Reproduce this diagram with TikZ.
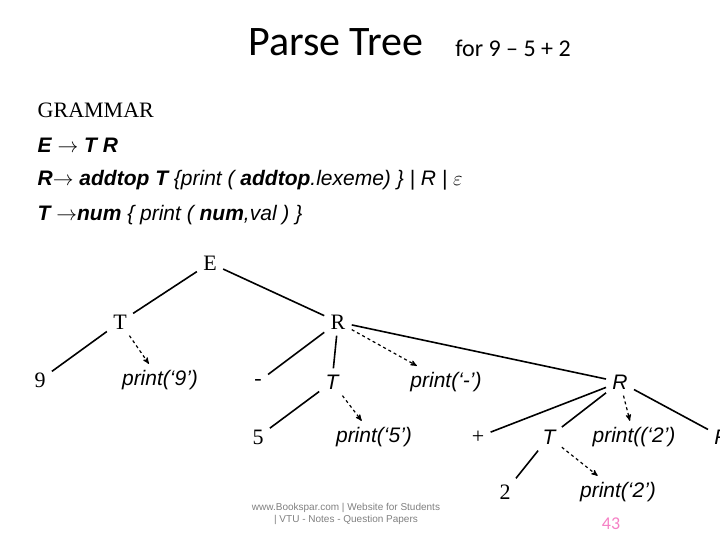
\documentclass[tikz,border=0pt]{standalone}
\usepackage{fontspec}
\setmainfont{Liberation Serif}
\setsansfont{Liberation Sans}
\newfontfamily\titlefont{Carlito}
\usetikzlibrary{arrows}
\begin{document}
\begin{tikzpicture}[x=1pt,y=-1pt,thick,
    sym/.style={font=\fontsize{22}{24}\selectfont,inner sep=6pt},
    act/.style={font=\fontsize{21}{24}\selectfont\sffamily\itshape,inner sep=6pt},
    gram/.style={anchor=west,font=\fontsize{21}{26}\selectfont\sffamily\itshape},
    tree/.style={-,line width=1.6pt},
    sem/.style={->,>=stealth',dashed,line width=1.2pt}]
  \useasboundingbox (0,0) rectangle (720,540);
  % title
  \node[font=\fontsize{42}{44}\selectfont\titlefont] (title) at (336,42) {Parse Tree};
  \node[font=\fontsize{24}{26}\selectfont\titlefont] (sub) at (513,48) {for 9 – 5 + 2};
  % grammar
  \node[anchor=west,font=\fontsize{22}{24}\selectfont] (g0) at (34,110) {GRAMMAR};
  \node[gram] (g1) at (34,145) {\textbf{E $\rightarrow$ T R}};
  \node[gram] (g2) at (34,180) {\textbf{R$\rightarrow$ addtop T} \{print ( \textbf{addtop}.lexeme) \} | R | $\varepsilon$};
  \node[gram] (g3) at (34,215) {\textbf{T $\rightarrow$num} \{ print ( \textbf{num},val ) \}};
  % tree
  \node[sym] (e) at (210,263) {E};
  \node[sym] (t1) at (120,322) {T};
  \node[sym] (r1) at (338,322) {R};
  \node[sym] (n9) at (40,380) {9};
  \node[act] (p9) at (160,380) {print(`9')};
  \node[sym] (minus) at (258,382) {-};
  \node[act] (t2) at (332,382) {T};
  \node[act] (pm) at (446,382) {print(`-')};
  \node[act] (r2) at (620,382) {R};
  \node[sym] (n5) at (258,437) {5};
  \node[act] (p5) at (374,437) {print(`5')};
  \node[sym] (plus) at (478,437) {+};
  \node[act] (t3) at (549,437) {T};
  \node[act] (pp) at (634,437) {print((`2')};
  \node[act,anchor=west] (r3) at (708,437) {R};
  \node[sym] (n2) at (505,492) {2};
  \node[act] (p2) at (618,492) {print(`2')};
  % footer
  \node[font=\fontsize{10}{12}\selectfont\sffamily,gray,align=center] (web) at (346,514) {www.Bookspar.com | Website for Students\\| VTU - Notes - Question Papers};
  \node[font=\fontsize{18}{20}\selectfont\titlefont,color=magenta!50] (page) at (611,524) {43};
  % edges
  \draw[tree] (e) -- (t1);
  \draw[tree] (e) -- (r1);
  \draw[tree] (t1) -- (n9);
  \draw[sem] (t1) -- (p9);
  \draw[tree] (r1) -- (minus);
  \draw[tree] (r1) -- (t2);
  \draw[sem] (r1) -- (pm);
  \draw[tree] (r1) -- (r2);
  \draw[tree] (t2) -- (n5);
  \draw[sem] (t2) -- (p5);
  \draw[tree] (r2) -- (plus);
  \draw[tree] (r2) -- (t3);
  \draw[sem] (r2) -- (pp);
  \draw[tree] (r2) -- (r3);
  \draw[tree] (t3) -- (n2);
  \draw[sem] (t3) -- (p2);
\end{tikzpicture}
\end{document}
